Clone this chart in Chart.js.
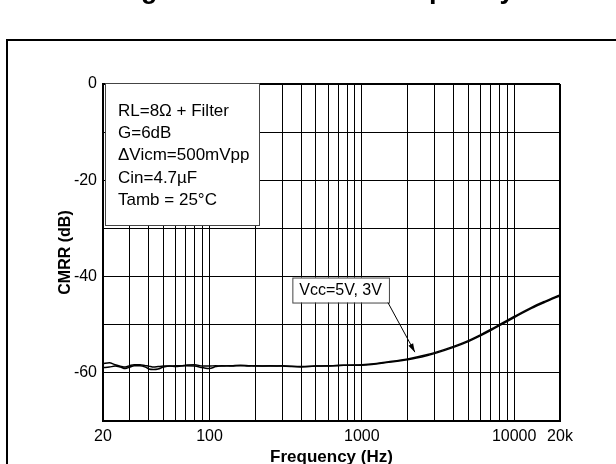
<!DOCTYPE html>
<html>
<head>
<meta charset="utf-8">
<script src="https://cdn.jsdelivr.net/npm/chart.js@4.4.1/dist/chart.umd.min.js"></script>
<style>
  html, body { margin: 0; padding: 0; background: #fff; }
  #wrap { width: 616px; height: 464px; overflow: hidden; }
</style>
</head>
<body>
<div id="wrap"><canvas id="cmrr" width="616" height="464"></canvas></div>
<script>
// frequency points (Hz)
const freqs = [20, 22, 24, 26, 28, 30, 32, 35, 38, 40, 43, 46, 50, 55, 60, 65, 70, 80, 90,
  100, 110, 120, 140, 160, 180, 200, 250, 300, 400, 500, 600, 700, 800,
  1000, 1200, 1500, 2000, 2700, 3000, 4000, 5000, 6000, 7000, 8000, 10000, 13000, 16000, 20000];

// CMRR (dB)
const cmrr5V = [-58.1, -57.9, -58.3, -58.6, -58.8, -58.5, -58.3, -58.3, -58.5, -58.6, -58.8, -58.7, -58.6, -58.6, -58.5, -58.5, -58.4, -58.3, -58.6,
  -58.6, -58.5, -58.6, -58.5, -58.4, -58.5, -58.6, -58.5, -58.6, -58.7, -58.6, -58.5, -58.5, -58.4,
  -58.3, -58.1, -57.7, -57.1, -56.2, -55.8, -54.5, -53.3, -52.1, -51.0, -50.0, -48.3, -46.4, -45.1, -43.8];
const cmrr3V = [-58.9, -58.8, -58.6, -58.8, -59.1, -58.8, -58.5, -58.5, -58.8, -59.2, -59.3, -59.2, -58.8, -58.6, -58.7, -58.6, -58.5, -58.6, -58.9,
  -59.1, -58.7, -58.5, -58.6, -58.5, -58.6, -58.5, -58.6, -58.5, -58.8, -58.6, -58.6, -58.4, -58.4,
  -58.4, -58.2, -57.8, -57.3, -56.4, -56.0, -54.7, -53.5, -52.3, -51.2, -50.2, -48.5, -46.6, -45.3, -44.0];

// grid positions and labels
const xGrid = [20, 30, 40, 50, 60, 70, 80, 90, 100, 200, 300, 400, 500, 600, 700, 800, 900,
  1000, 2000, 3000, 4000, 5000, 6000, 7000, 8000, 9000, 10000, 20000];
const xLabels = {20: '20', 100: '100', 1000: '1000', 10000: '10000', 20000: '20k'};
const yLabels = [0, -20, -40, -60];

const figureTitle = 'Figure 27. CMRR vs. frequency';
const conditions = ['RL=8\u03A9 + Filter', 'G=6dB', '\u0394Vicm=500mVpp', 'Cin=4.7\u00B5F', 'Tamb = 25\u00B0C'];
const seriesNote = 'Vcc=5V, 3V';
const noteAt = {x: 350, y: -40.2};    // top-left of the note box, in data units
const arrowAt = {x: 2230, y: -55.7};  // where the arrow points

const FONT = '"Liberation Sans", Arial, sans-serif';

function toPoints(xs, ys) {
  let pts = [];
  for (let i = 0; i < xs.length; i++) {
    pts.push({x: xs[i], y: ys[i]});
  }
  return pts;
}

const decor = {
  id: 'decor',
  afterDraw(chart) {
    const {ctx, chartArea, scales} = chart;
    ctx.save();

    // page frame
    ctx.strokeStyle = '#000';
    ctx.lineWidth = 2;
    ctx.beginPath();
    ctx.moveTo(7, chart.height);
    ctx.lineTo(7, 40);
    ctx.lineTo(chart.width, 40);
    ctx.stroke();

    // figure caption, mostly cut off above the page
    ctx.fillStyle = '#000';
    ctx.font = 'bold 27px ' + FONT;
    ctx.textAlign = 'left';
    ctx.textBaseline = 'alphabetic';
    ctx.fillText(figureTitle, 117, -2.5);

    // test conditions box
    const bx = chartArea.left + 2, by = chartArea.top - 1;
    ctx.fillStyle = '#fff';
    ctx.fillRect(bx, by, 154, 142);
    ctx.strokeStyle = '#444';
    ctx.lineWidth = 1;
    ctx.strokeRect(bx + 0.5, by + 0.5, 154, 142);
    ctx.fillStyle = '#000';
    ctx.font = '17px ' + FONT;
    ctx.textBaseline = 'middle';
    conditions.forEach((line, i) => {
      ctx.fillText(line, bx + 13, by + 28 + i * 22.4);
    });

    // series note with arrow
    const nx = scales.x.getPixelForValue(noteAt.x);
    const ny = scales.y.getPixelForValue(noteAt.y);
    ctx.font = '16px ' + FONT;
    const nw = ctx.measureText(seriesNote).width + 14;
    const nh = 25;
    ctx.fillStyle = '#fff';
    ctx.fillRect(nx, ny, nw, nh);
    ctx.strokeStyle = '#444';
    ctx.strokeRect(nx + 0.5, ny + 0.5, nw, nh);
    ctx.fillStyle = '#000';
    ctx.fillText(seriesNote, nx + 7, ny + nh / 2 + 1);

    const ax = scales.x.getPixelForValue(arrowAt.x);
    const ay = scales.y.getPixelForValue(arrowAt.y);
    const sx = nx + nw - 1, sy = ny + nh;
    ctx.strokeStyle = '#000';
    ctx.lineWidth = 1;
    ctx.beginPath();
    ctx.moveTo(sx, sy);
    ctx.lineTo(ax, ay);
    ctx.stroke();
    const ang = Math.atan2(ay - sy, ax - sx);
    ctx.beginPath();
    ctx.moveTo(ax, ay);
    ctx.lineTo(ax - 9 * Math.cos(ang - 0.3), ay - 9 * Math.sin(ang - 0.3));
    ctx.lineTo(ax - 9 * Math.cos(ang + 0.3), ay - 9 * Math.sin(ang + 0.3));
    ctx.closePath();
    ctx.fill();

    ctx.restore();
  }
};

const ctx = document.getElementById('cmrr');
const chart = new Chart(ctx, {
  type: 'line',
  data: {
    datasets: [{
      label: 'Vcc=5V',
      data: toPoints(freqs, cmrr5V),
      borderColor: '#000',
      borderWidth: 1.5,
      pointRadius: 0,
      cubicInterpolationMode: 'monotone',
      fill: false
    }, {
      label: 'Vcc=3V',
      data: toPoints(freqs, cmrr3V),
      borderColor: '#000',
      borderWidth: 1.5,
      pointRadius: 0,
      cubicInterpolationMode: 'monotone',
      fill: false
    }]
  },
  options: {
    responsive: false,
    animation: false,
    layout: { padding: { left: 0, top: 84, right: 56, bottom: 0 } },
    plugins: { legend: { display: false }, tooltip: { enabled: false } },
    scales: {
      x: {
        type: 'logarithmic',
        min: 20,
        max: 20000,
        afterBuildTicks: (scale) => { scale.ticks = xGrid.map(v => ({value: v})); },
        afterFit: (scale) => { scale.height = 43; },
        ticks: {
          autoSkip: false,
          maxRotation: 0,
          padding: 6,
          color: '#000',
          font: { family: FONT, size: 16 },
          callback: (v) => xLabels[v] || ''
        },
        grid: {
          color: '#000',
          lineWidth: (c) => (c.tick && c.tick.value === 20000) ? 2 : 1,
          drawTicks: false
        },
        border: { color: '#000', width: 2 },
        title: {
          display: true,
          text: 'Frequency (Hz)',
          color: '#000',
          font: { family: FONT, size: 17, weight: 'bold' },
          padding: { top: 0, bottom: -4 }
        }
      },
      y: {
        min: -70,
        max: 0,
        afterFit: (scale) => { scale.width = 103; },
        ticks: {
          stepSize: 10,
          padding: 6,
          color: '#000',
          font: { family: FONT, size: 16 },
          callback: (v) => yLabels.includes(v) ? String(v) : ''
        },
        grid: {
          color: '#000',
          lineWidth: (c) => (c.tick && c.tick.value === 0) ? 2 : 1,
          drawTicks: false
        },
        border: { color: '#000', width: 2 },
        title: {
          display: true,
          text: 'CMRR (dB)',
          color: '#000',
          font: { family: FONT, size: 16, weight: 'bold' },
          padding: { top: 56, bottom: 0 }
        }
      }
    }
  },
  plugins: [decor]
});
</script>
</body>
</html>
